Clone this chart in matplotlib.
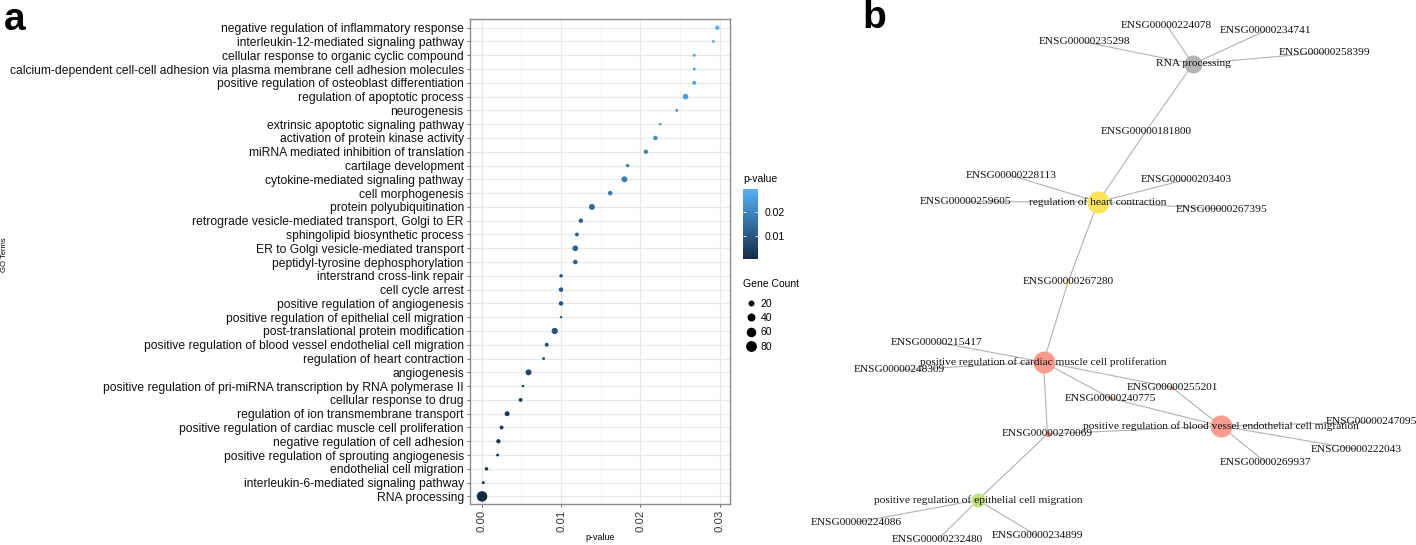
import numpy as np
import matplotlib
matplotlib.use('Agg')
import matplotlib.pyplot as plt
from matplotlib.colors import LinearSegmentedColormap, Normalize
from matplotlib.lines import Line2D

plt.rcParams['font.family'] = ['Liberation Sans', 'DejaVu Sans']

# ---- panel a data (top to bottom) ----
go_terms = [
    'negative regulation of inflammatory response',
    'interleukin-12-mediated signaling pathway',
    'cellular response to organic cyclic compound',
    'calcium-dependent cell-cell adhesion via plasma membrane cell adhesion molecules',
    'positive regulation of osteoblast differentiation',
    'regulation of apoptotic process',
    'neurogenesis',
    'extrinsic apoptotic signaling pathway',
    'activation of protein kinase activity',
    'miRNA mediated inhibition of translation',
    'cartilage development',
    'cytokine-mediated signaling pathway',
    'cell morphogenesis',
    'protein polyubiquitination',
    'retrograde vesicle-mediated transport, Golgi to ER',
    'sphingolipid biosynthetic process',
    'ER to Golgi vesicle-mediated transport',
    'peptidyl-tyrosine dephosphorylation',
    'interstrand cross-link repair',
    'cell cycle arrest',
    'positive regulation of angiogenesis',
    'positive regulation of epithelial cell migration',
    'post-translational protein modification',
    'positive regulation of blood vessel endothelial cell migration',
    'regulation of heart contraction',
    'angiogenesis',
    'positive regulation of pri-miRNA transcription by RNA polymerase II',
    'cellular response to drug',
    'regulation of ion transmembrane transport',
    'positive regulation of cardiac muscle cell proliferation',
    'negative regulation of cell adhesion',
    'positive regulation of sprouting angiogenesis',
    'endothelial cell migration',
    'interleukin-6-mediated signaling pathway',
    'RNA processing',
]
p_values = [0.0297, 0.0292, 0.0268, 0.0268, 0.0268, 0.0257, 0.0246, 0.0225,
            0.0219, 0.0207, 0.0184, 0.0180, 0.0162, 0.0139, 0.0125, 0.0120,
            0.0118, 0.0118, 0.0100, 0.0100, 0.0100, 0.0100, 0.0092, 0.0082,
            0.0078, 0.0059, 0.0052, 0.0049, 0.0032, 0.0025, 0.0021, 0.0020,
            0.0006, 0.0002, 0.00004]
gene_counts = [10, 3, 3, 3, 7, 18, 3, 2, 10, 10, 5, 20, 10, 20, 10, 7, 18, 10,
               5, 10, 10, 2, 23, 7, 3, 20, 2, 7, 13, 7, 9, 3, 5, 3, 75]
x_ticks = [0.00, 0.01, 0.02, 0.03]
legend_counts = [20, 40, 60, 80]
cbar_ticks = [0.01, 0.02]

# ---- panel b data ----
term_nodes = ['RNA processing',
              'regulation of heart contraction',
              'positive regulation of cardiac muscle cell proliferation',
              'positive regulation of blood vessel endothelial cell migration',
              'positive regulation of epithelial cell migration']
term_colors = ['#b4b4b4', '#fde35a', '#f99b8d', '#f99b8d', '#c6e07c']
rna_processing_genes = ['ENSG00000224078', 'ENSG00000234741', 'ENSG00000235298',
                        'ENSG00000258399', 'ENSG00000181800']
heart_contraction_genes = ['ENSG00000181800', 'ENSG00000228113', 'ENSG00000203403',
                           'ENSG00000259605', 'ENSG00000267395', 'ENSG00000267280']
cardiac_prolif_genes = ['ENSG00000267280', 'ENSG00000215417', 'ENSG00000248309',
                        'ENSG00000255201', 'ENSG00000240775', 'ENSG00000270069']
vessel_migration_genes = ['ENSG00000255201', 'ENSG00000240775', 'ENSG00000270069',
                          'ENSG00000247095', 'ENSG00000222043', 'ENSG00000269937']
epithelial_migration_genes = ['ENSG00000270069', 'ENSG00000224086',
                              'ENSG00000232480', 'ENSG00000234899']
term_genes = [rna_processing_genes, heart_contraction_genes, cardiac_prolif_genes,
              vessel_migration_genes, epithelial_migration_genes]
dot_genes = ['ENSG00000267280', 'ENSG00000255201', 'ENSG00000240775', 'ENSG00000270069']
dot_colors = ['#f5e04a', '#f08a7c', '#f08a7c', '#f08a7c']

# network layout (panel pixel units)
layout = {
    'RNA processing': (1193, 64),
    'regulation of heart contraction': (1098, 202),
    'positive regulation of cardiac muscle cell proliferation': (1043.5, 362),
    'positive regulation of blood vessel endothelial cell migration': (1221, 426),
    'positive regulation of epithelial cell migration': (978, 500),
    'ENSG00000224078': (1166.5, 25), 'ENSG00000234741': (1266, 30.5),
    'ENSG00000235298': (1084.5, 42), 'ENSG00000258399': (1325, 52.3),
    'ENSG00000181800': (1146, 131), 'ENSG00000228113': (1011, 175.5),
    'ENSG00000203403': (1186.5, 179.5), 'ENSG00000259605': (966, 201.7),
    'ENSG00000267395': (1222, 209), 'ENSG00000267280': (1068, 282),
    'ENSG00000215417': (937, 342.3), 'ENSG00000248309': (899.5, 370),
    'ENSG00000255201': (1172, 387.5), 'ENSG00000240775': (1110.5, 398.3),
    'ENSG00000247095': (1371, 422), 'ENSG00000270069': (1047.5, 434),
    'ENSG00000222043': (1356.5, 449.3), 'ENSG00000269937': (1266, 462.7),
    'ENSG00000224086': (856, 522.3), 'ENSG00000232480': (937.5, 540),
    'ENSG00000234899': (1037.5, 536),
}

W, H = 1416, 545
fig = plt.figure(figsize=(W / 100, H / 100), dpi=100)


def size_of(c):
    d_px = 1.0 + 1.1 * np.sqrt(c)   # dot diameter in px
    return d_px * 0.72               # in points


# ---------------- panel a ----------------
ax = fig.add_axes([470 / W, 1 - 504 / H, 260 / W, 485 / H])
cmap = LinearSegmentedColormap.from_list('gg', ['#132B43', '#56B1F7'])
norm = Normalize(vmin=min(p_values), vmax=max(p_values))
y = np.arange(len(go_terms))
sizes = np.array([size_of(c) for c in gene_counts]) ** 2
sc = ax.scatter(p_values, y, s=sizes, c=p_values, cmap=cmap, norm=norm,
                linewidths=0, zorder=3)
ax.set_ylim(len(go_terms) - 0.45, -0.63)
ax.set_xlim(-0.00148, 0.03131)
ax.set_yticks(y)
ax.set_yticklabels(go_terms, fontsize=8.7, color='#111111')
ax.set_xticks(x_ticks)
ax.set_xticklabels(['%.2f' % v for v in x_ticks], rotation=90, fontsize=8.2, color='#333333')
ax.set_xticks([0.005, 0.015, 0.025], minor=True)
ax.grid(which='major', color='#e8e8e8', lw=0.9, zorder=0)
ax.grid(which='minor', axis='x', color='#f1f1f1', lw=0.5, zorder=0)
ax.set_axisbelow(True)
ax.tick_params(which='major', length=2.5, width=0.6, color='#555555', pad=2)
ax.tick_params(which='minor', length=0)
for s in ax.spines.values():
    s.set_color('#8c8c8c')
    s.set_linewidth(1)
ax.set_xlabel('p-value', fontsize=6.4)
ax.xaxis.set_label_coords(0.5, -(533 - 504) / 485)
fig.text(5 / W, 1 - 255 / H, 'GO Terms', fontsize=5.5, rotation=90,
         ha='center', va='center')

# colour bar
cax = fig.add_axes([743.3 / W, 1 - 259.3 / H, 14.4 / W, 70 / H])
cb = fig.colorbar(sc, cax=cax, ticks=cbar_ticks)
cb.outline.set_visible(False)
cax.tick_params(direction='in', color='white', length=2.5, width=0.6,
                left=True, right=True, labelsize=7.5, pad=5)
cax.set_yticklabels(['%.2f' % v for v in cbar_ticks])
fig.text(743 / W, 1 - 179 / H, 'p-value', fontsize=7.5, va='center', ha='left')

# size legend
fig.text(743 / W, 1 - 284 / H, 'Gene Count', fontsize=7.5, va='center', ha='left')
handles = [Line2D([], [], marker='o', ls='', color='black', markeredgewidth=0,
                  markersize=size_of(c)) for c in legend_counts]
leg = fig.legend(handles, [str(c) for c in legend_counts],
                 loc='upper left', bbox_to_anchor=(740 / W, 1 - 293.5 / H),
                 frameon=False, fontsize=7.5,
                 labelspacing=0.42, handletextpad=0.3, handlelength=1.2,
                 borderpad=0)

# panel letters
fig.text(4 / W, 1 - 30 / H, 'a', fontsize=28, weight='bold', va='baseline')
fig.text(862 / W, 1 - 28 / H, 'b', fontsize=28, weight='bold', va='baseline')

# ---------------- panel b ----------------
axb = fig.add_axes([800 / W, 0, 616 / W, 1])
axb.set_xlim(800, 1416)
axb.set_ylim(545, 0)
axb.axis('off')
serif = ['Liberation Serif', 'DejaVu Serif']

for term, genes in zip(term_nodes, term_genes):
    x0, y0 = layout[term]
    for g in genes:
        x1, y1 = layout[g]
        axb.plot([x0, x1], [y0, y1], color='#b2b2b2', lw=0.8, zorder=1,
                 solid_capstyle='butt')

for g, col in zip(dot_genes, dot_colors):
    n = sum(g in genes for genes in term_genes)
    gx, gy = layout[g]
    axb.scatter([gx], [gy], s=(1.8 * n * 0.72) ** 2, color=col, linewidths=0, zorder=2)

all_genes = []
for genes in term_genes:
    for g in genes:
        if g not in all_genes:
            all_genes.append(g)
for g in all_genes:
    gx, gy = layout[g]
    axb.text(gx, gy, g, fontsize=8.2, family=serif, ha='center', va='center',
             color='#111111', zorder=4)

for term, col, genes in zip(term_nodes, term_colors, term_genes):
    tx, ty = layout[term]
    r = 2 * len(genes) - 1
    axb.scatter([tx], [ty], s=(2 * r * 0.72) ** 2, color=col, linewidths=0, zorder=3)
    axb.text(tx, ty, term, fontsize=8.2, family=serif, ha='center', va='center',
             color='#111111', zorder=5)

fig.savefig('out.png', dpi=100)
